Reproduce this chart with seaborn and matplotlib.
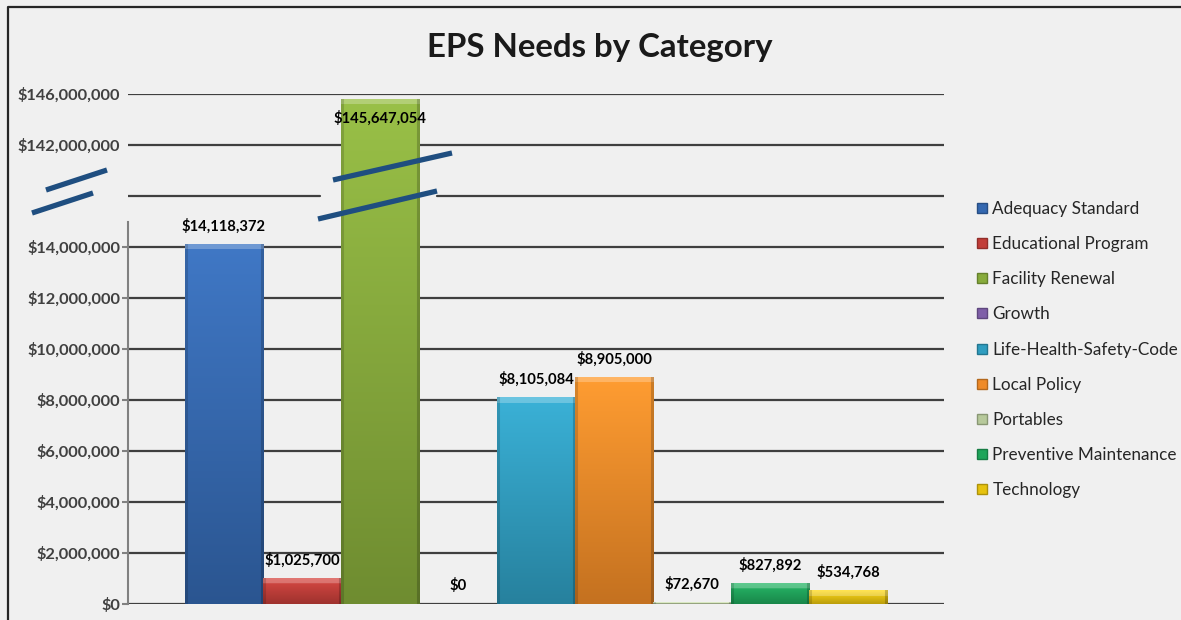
import numpy as np
import pandas as pd
import matplotlib
matplotlib.use("Agg")
import matplotlib.pyplot as plt
from matplotlib.lines import Line2D
from matplotlib.colors import to_rgb
import seaborn as sns

categories = ["Adequacy Standard", "Educational Program", "Facility Renewal", "Growth",
              "Life-Health-Safety-Code", "Local Policy", "Portables",
              "Preventive Maintenance", "Technology"]
values = [14118372, 1025700, 145647054, 0, 8105084, 8905000, 72670, 827892, 534768]
colors = ["#3468b0", "#c23d38", "#87ab3b", "#7f5fa8", "#2f9dc0", "#ef8a27",
          "#b7c99b", "#1ea55a", "#e6c20e"]
tick_values = [0, 2e6, 4e6, 6e6, 8e6, 10e6, 12e6, 14e6, 142e6, 146e6]
tick_labels = ["$0", "$2,000,000", "$4,000,000", "$6,000,000", "$8,000,000",
               "$10,000,000", "$12,000,000", "$14,000,000", "$142,000,000", "$146,000,000"]
break_value = 138e6

BG = "#f0f0f0"
FONT = "Lato"

sns.set_theme(style="white")
plt.rcParams["font.family"] = [FONT, "DejaVu Sans"]

df = pd.DataFrame({"category": categories, "value": values})

fig = plt.figure(figsize=(11.81, 6.20), dpi=100, facecolor=BG)
ax = fig.add_axes([128/1181, 1-604/620, (944-128)/1181, (604-94)/620])
ax.set_facecolor(BG)

sns.barplot(data=df, x="category", y="value", hue="category", palette=colors,
            width=1.0, legend=False, ax=ax, saturation=1, zorder=3)

# broken axis via piecewise scale
LOW_TOP = 16e6
def fwd(v):
    v = np.asarray(v, dtype=float)
    return np.where(v <= LOW_TOP, v, LOW_TOP + (v - break_value) / 2.0)
def inv(d):
    d = np.asarray(d, dtype=float)
    return np.where(d <= LOW_TOP, d, break_value + (d - LOW_TOP) * 2.0)
ax.set_yscale("function", functions=(fwd, inv))
XLIM = (-1.23, len(categories) - 1 + 1.23)
YLIM = (0, 146e6)
ax.set_ylim(*YLIM)
ax.set_xlim(*XLIM)

for p in ax.patches:
    p.set_edgecolor((0, 0, 0, 0.2))
    p.set_linewidth(0.6)

ax.set_yticks(tick_values)
ax.set_yticklabels(tick_labels, fontsize=11.8, fontweight="bold", color="#404040")
ax.tick_params(axis="y", which="major", length=4, width=1.5, color="#808080", pad=1.5, left=True)
ax.minorticks_off()
for t in ax.yaxis.get_major_ticks()[-2:]:
    t.tick1line.set_visible(False)
ax.set_xticks([])
ax.set_xlabel("")
ax.set_ylabel("")

for s in ["top", "right", "bottom"]:
    ax.spines[s].set_visible(False)
ax.spines["left"].set_color("#808080")
ax.spines["left"].set_linewidth(1.5)
ax.spines["left"].set_bounds(0, 15e6)

# gridlines
for tv in tick_values:
    ax.axhline(tv, color="#3f3f3f", lw=1.6, zorder=1)
ax.axhline(break_value, xmin=0, xmax=0.235, color="#3f3f3f", lw=1.6, zorder=1)
ax.axhline(break_value, xmin=0.379, xmax=1, color="#3f3f3f", lw=1.6, zorder=1)

# bar shading (Excel-like gradient + bevel), clipped to each seaborn bar
fig.canvas.draw()
to_axes = ax.transAxes.inverted()
for p in list(ax.patches):
    bb = p.get_window_extent()
    h_px = int(round(bb.height))
    w_px = int(round(bb.width))
    if h_px < 2 or w_px < 2:
        continue
    base = np.array(to_rgb(p.get_facecolor()[:3]))
    rows = np.linspace(0, 1, h_px)
    light = np.clip(base * 1.08 + 0.03, 0, 1)
    dark = base * 0.82
    col = light[None, :] * (1 - rows[:, None]) + dark[None, :] * rows[:, None]
    bev = min(6, h_px // 2)
    col[:bev] = np.clip(col[:bev] * 0.75 + 0.25, 0, 1)
    img = np.repeat(col[:, None, :], w_px, axis=1)
    edge = min(3, w_px // 4)
    img[:, :edge] *= 0.85
    img[:, -edge:] *= 0.8
    (x0, y0), (x1, y1) = to_axes.transform([[bb.x0, bb.y0], [bb.x1, bb.y1]])
    im = ax.imshow(img, extent=(x0, x1, y0, y1), transform=ax.transAxes,
                   origin="upper", aspect="auto", interpolation="bilinear",
                   zorder=3.5)
    im.set_clip_path(p)
ax.set_xlim(*XLIM)
ax.set_ylim(*YLIM)
ax.set_aspect("auto")

# data labels
for i, v in enumerate(values):
    lbl = "${:,.0f}".format(v)
    off = -14 if v > LOW_TOP else 13
    ax.annotate(lbl, (i, v), xytext=(0, off), textcoords="offset points",
                ha="center", va="center", fontsize=10.6, fontweight="bold",
                color="black", zorder=5)

# break marks
brk = "#1f4e80"
def fig_line(x0, y0, x1, y1):
    fig.add_artist(Line2D([x0/1181, x1/1181], [1-y0/620, 1-y1/620],
                          color=brk, lw=3.8, solid_capstyle="butt", zorder=10))
fig_line(46, 190, 107, 170)
fig_line(32, 213, 93, 193)
fig_line(333, 180, 452, 153)
fig_line(318, 219, 437, 191)

# title
fig.text(600/1181, 1-48/620, "EPS Needs by Category", ha="center", va="center",
         fontsize=23.8, fontweight="bold", color="#1a1a1a")

# legend
handles = [Line2D([0], [0], marker="s", linestyle="none", markersize=7,
                  markerfacecolor=c, markeredgecolor=tuple(np.array(to_rgb(c)) * 0.75))
           for c in colors]
fig.legend(handles, categories, loc="upper left", bbox_to_anchor=(977/1181, 1-201/620),
           frameon=False, fontsize=12.3, labelcolor="#262626", handlelength=0.6,
           handletextpad=0.3, labelspacing=1.12, borderaxespad=0, borderpad=0)

# outer border
fig.add_artist(Line2D([8/1181, 8/1181, 1], [0, 1-7/620, 1-7/620],
                      color="#262626", lw=1.6, zorder=20))

fig.savefig("out.png", dpi=100, facecolor=BG)
